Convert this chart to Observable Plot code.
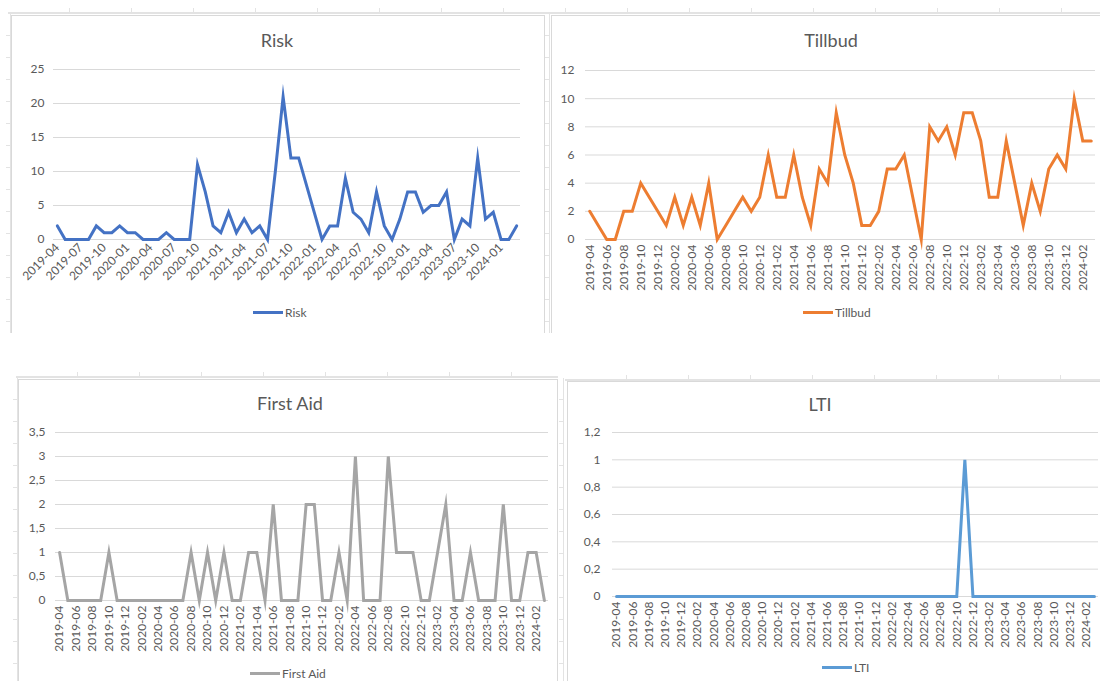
<!DOCTYPE html>
<html>
<head>
<meta charset="utf-8">
<script src="https://cdn.jsdelivr.net/npm/d3@7"></script>
<script src="https://cdn.jsdelivr.net/npm/@observablehq/plot@0.6"></script>
<style>
  html, body { margin: 0; padding: 0; background: #fff; }
  #page {
    position: relative; width: 1100px; height: 681px; overflow: hidden;
    font-family: Lato, "Open Sans", sans-serif; color: #595959;
    background-color: #fff;
  }
  .box { position: absolute; background: #fff; border: 1px solid #d9d9d9; box-sizing: border-box; }
  .strip { position: absolute; height: 4px; border-bottom: 2px solid #e3e3e3;
    background-image: repeating-linear-gradient(to right, transparent 0, transparent 61px, #e3e3e3 61px, #e3e3e3 62px); }
  .vstrip { position: absolute; width: 4px; border-right: 1px solid #e3e3e3;
    background-image: repeating-linear-gradient(to bottom, transparent 0, transparent 21px, #e3e3e3 21px, #e3e3e3 22px); }
  .title { position: absolute; width: 240px; text-align: center; font-size: 18px; line-height: 18px; color: #595959; }
  .legend { position: absolute; font-size: 12px; line-height: 14px; color: #595959; white-space: nowrap; }
  .legend .sw { display: inline-block; width: 30px; height: 3px; vertical-align: middle; margin-right: 2px; position: relative; top: -1px; }
  .plot { position: absolute; }
</style>
</head>
<body>
<div id="page">
  <div class="strip" style="left:8px;top:8px;width:1092px;"></div>
  <div class="vstrip" style="left:6px;top:14px;height:319px;"></div>
  <div class="vstrip" style="left:545px;top:14px;height:319px;"></div>
  <div class="strip" style="left:16px;top:372px;width:542px;"></div>
  <div class="strip" style="left:565px;top:375px;width:535px;"></div>
  <div class="vstrip" style="left:13px;top:378px;height:303px;"></div>
  <div class="vstrip" style="left:559px;top:378px;height:303px;"></div>

  <div class="box" style="left:11px;top:15px;width:534px;height:318px;border-bottom:none;"></div>
  <div class="box" style="left:551px;top:15px;width:560px;height:318px;border-bottom:none;"></div>
  <div class="box" style="left:18px;top:379px;width:540px;height:310px;"></div>
  <div class="box" style="left:567px;top:381px;width:540px;height:310px;"></div>

  <div class="title" style="left:157px;top:31px;">Risk</div>
  <div class="title" style="left:711px;top:31px;">Tillbud</div>
  <div class="title" style="left:170px;top:394px;">First Aid</div>
  <div class="title" style="left:700px;top:395px;">LTI</div>

  <div id="risk" class="plot" style="left:12px;top:60px;"></div>
  <div id="tillbud" class="plot" style="left:551px;top:60px;"></div>
  <div id="firstaid" class="plot" style="left:18px;top:420px;"></div>
  <div id="lti" class="plot" style="left:567px;top:420px;"></div>

  <div class="legend" style="left:253px;top:306px;"><span class="sw" style="background:#4472C4"></span>Risk</div>
  <div class="legend" style="left:803px;top:306px;"><span class="sw" style="background:#ED7D31"></span>Tillbud</div>
  <div class="legend" style="left:250px;top:667px;"><span class="sw" style="background:#A5A5A5"></span>First Aid</div>
  <div class="legend" style="left:822px;top:661px;"><span class="sw" style="background:#5B9BD5"></span>LTI</div>
</div>
<script>
const months = [
  "2019-04","2019-05","2019-06","2019-07","2019-08","2019-09","2019-10","2019-11","2019-12",
  "2020-01","2020-02","2020-03","2020-04","2020-05","2020-06","2020-07","2020-08","2020-09","2020-10","2020-11","2020-12",
  "2021-01","2021-02","2021-03","2021-04","2021-05","2021-06","2021-07","2021-08","2021-09","2021-10","2021-11","2021-12",
  "2022-01","2022-02","2022-03","2022-04","2022-05","2022-06","2022-07","2022-08","2022-09","2022-10","2022-11","2022-12",
  "2023-01","2023-02","2023-03","2023-04","2023-05","2023-06","2023-07","2023-08","2023-09","2023-10","2023-11","2023-12",
  "2024-01","2024-02","2024-03"
];

const risk = [2,0,0,0,0,2,1,1,2,1, 1,0,0,0,1,0,0,0,11,7, 2,1,4,1,3,1,2,0,10,21, 12,12,8,4,0,2,2,9,4,3, 1,7,2,0,3,7,7,4,5,5, 7,0,3,2,12,3,4,0,0,2];
const tillbud = [2,1,0,0,2,2,4,3,2,1, 3,1,3,1,4,0,1,2,3,2, 3,6,3,3,6,3,1,5,4,9, 6,4,1,1,2,5,5,6,3,0, 8,7,8,6,9,9,7,3,3,7, 4,1,4,2,5,6,5,10,7,7];
const firstAid = [1,0,0,0,0,0,1,0,0,0, 0,0,0,0,0,0,1,0,1,0, 1,0,0,1,1,0,2,0,0,0, 2,2,0,0,1,0,3,0,0,0, 3,1,1,1,0,0,1,2,0,0, 1,0,0,0,2,0,0,1,1,0];
const lti = [0,0,0,0,0,0,0,0,0,0, 0,0,0,0,0,0,0,0,0,0, 0,0,0,0,0,0,0,0,0,0, 0,0,0,0,0,0,0,0,0,0, 0,0,0,1,0,0,0,0,0,0, 0,0,0,0,0,0,0,0,0,0];

const riskYTicks = [0,5,10,15,20,25];
const tillbudYTicks = [0,2,4,6,8,10,12];
const firstAidYTicks = [0,0.5,1,1.5,2,2.5,3,3.5];
const ltiYTicks = [0,0.2,0.4,0.6,0.8,1,1.2];

const everyThird = months.filter((m, i) => i % 3 === 0);
const everySecond = months.filter((m, i) => i % 2 === 0);

const fmt = d => String(d).replace(".", ",");

function chart({values, color, yTicks, xTicks, rotate, width, height, mt, mr, mb, ml, ypad, xpad}) {
  const data = months.map((m, i) => ({month: m, value: values[i]}));
  return Plot.plot({
    width, height,
    marginTop: mt, marginRight: mr, marginBottom: mb, marginLeft: ml,
    style: {fontFamily: "Lato, 'Open Sans', sans-serif", fontSize: "12px", color: "#595959", background: "transparent", overflow: "visible"},
    x: {type: "point", domain: months, padding: 0.5, round: false},
    y: {domain: [0, yTicks[yTicks.length - 1]]},
    marks: [
      Plot.ruleY(yTicks, {stroke: "#D9D9D9", strokeWidth: 1}),
      Plot.axisY(yTicks, {tickSize: 0, tickPadding: ypad, tickFormat: fmt, label: null, fill: "#595959"}),
      Plot.axisX(xTicks, {tickSize: 0, tickPadding: xpad, tickRotate: rotate, label: null, fill: "#595959"}),
      Plot.line(data, {x: "month", y: "value", stroke: color, strokeWidth: 3, strokeLinejoin: "miter", strokeMiterlimit: 10})
    ]
  });
}

document.getElementById("risk").append(chart({
  values: risk, color: "#4472C4", yTicks: riskYTicks, xTicks: everyThird, rotate: -45,
  width: 531, height: 240, mt: 9, mr: 23, mb: 61, ml: 41, ypad: 9, xpad: 6
}));
document.getElementById("tillbud").append(chart({
  values: tillbud, color: "#ED7D31", yTicks: tillbudYTicks, xTicks: everySecond, rotate: -90,
  width: 549, height: 240, mt: 10, mr: 5, mb: 61, ml: 34, ypad: 11, xpad: 5
}));
document.getElementById("firstaid").append(chart({
  values: firstAid, color: "#A5A5A5", yTicks: firstAidYTicks, xTicks: everySecond, rotate: -90,
  width: 538, height: 261, mt: 12, mr: 8, mb: 81, ml: 37, ypad: 10, xpad: 5
}));
document.getElementById("lti").append(chart({
  values: lti, color: "#5B9BD5", yTicks: ltiYTicks, xTicks: everySecond, rotate: -90,
  width: 533, height: 261, mt: 12, mr: 2, mb: 85, ml: 45, ypad: 12, xpad: 5
}));
</script>
</body>
</html>
